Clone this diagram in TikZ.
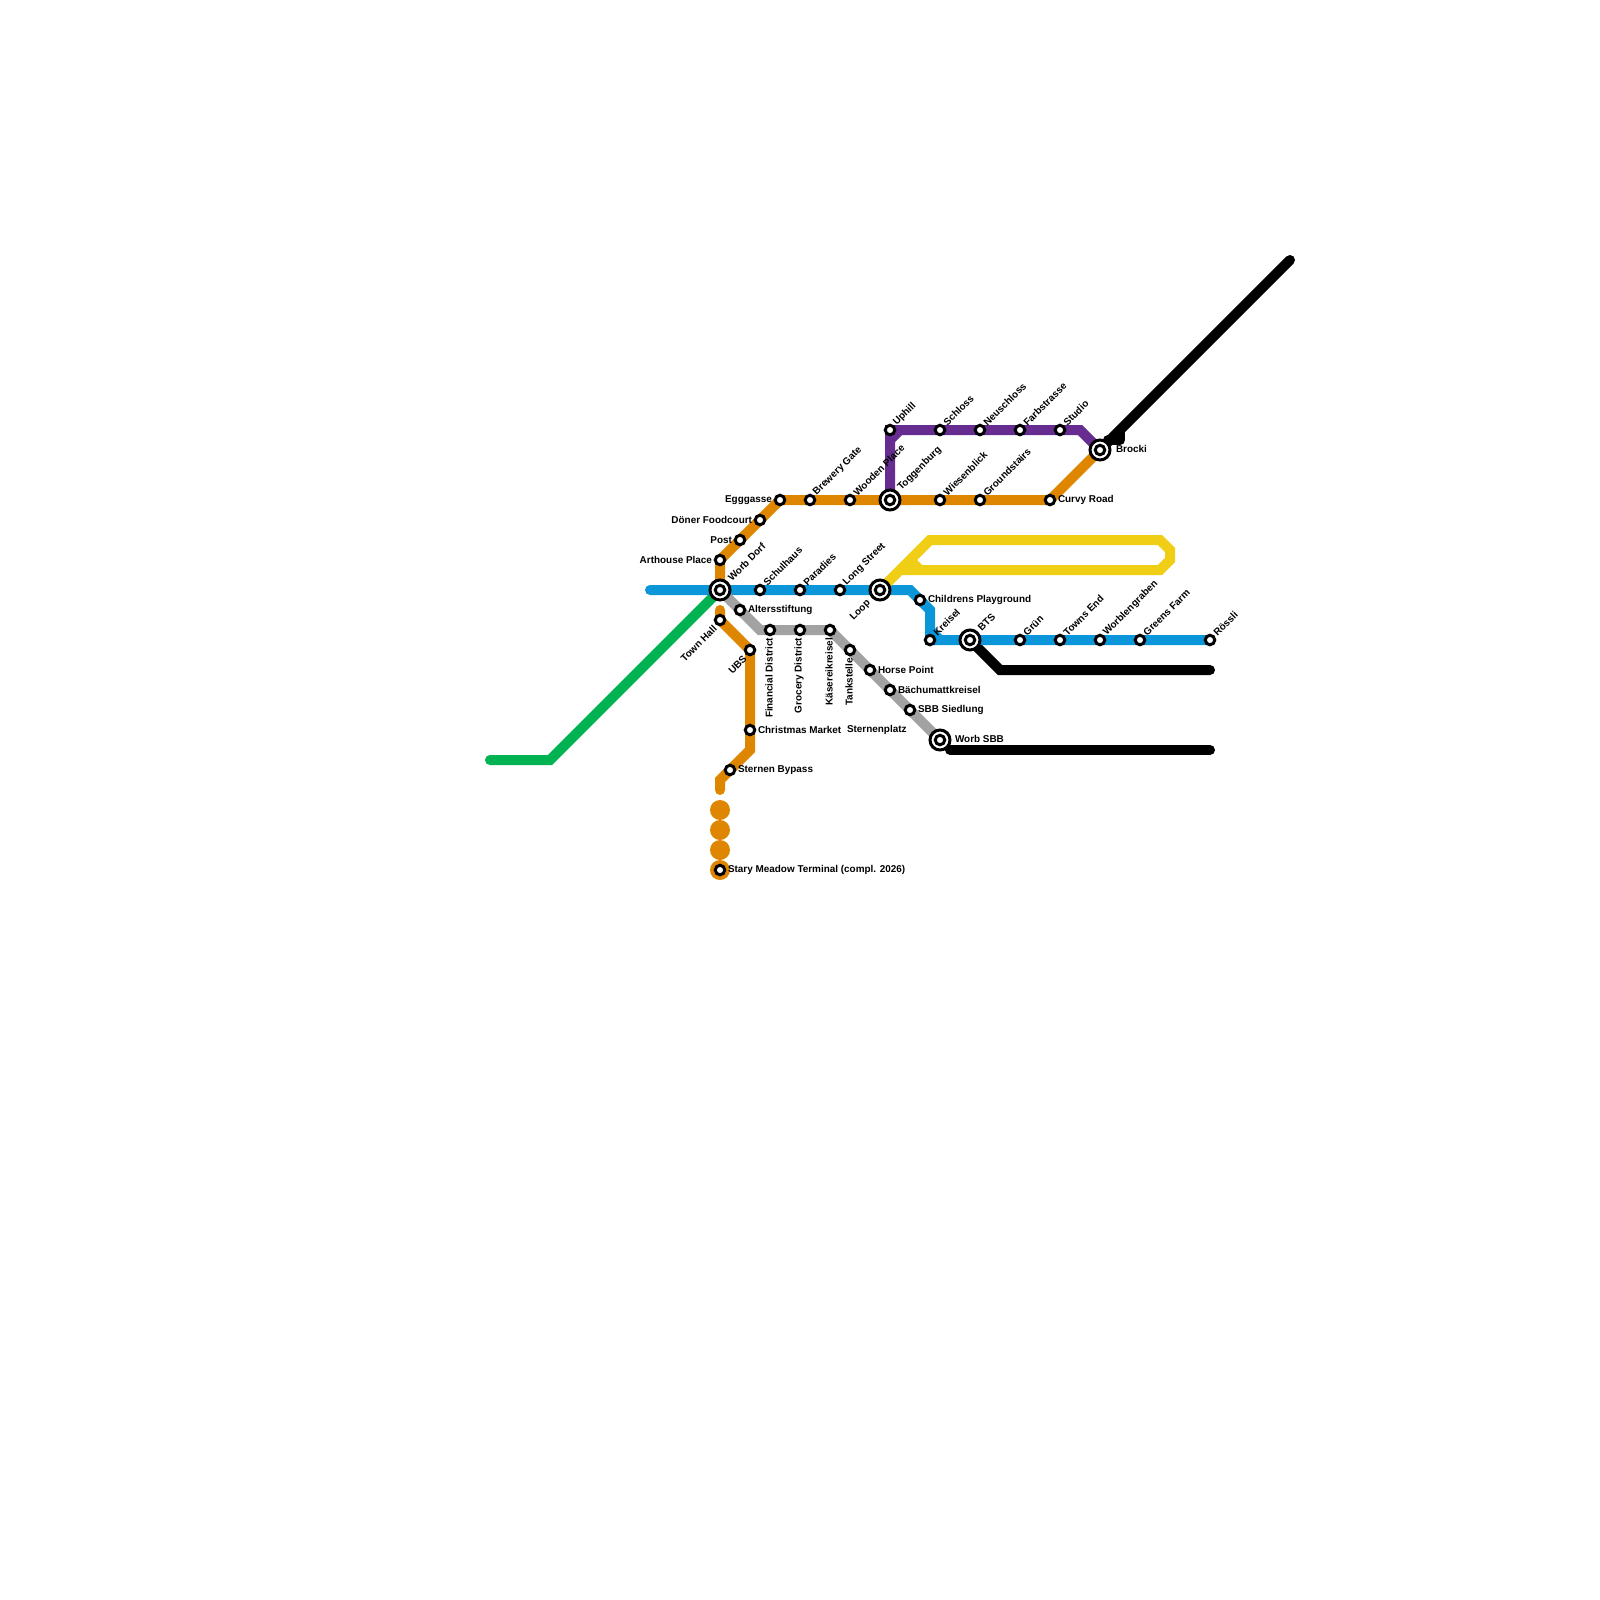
\documentclass[tikz,border=0pt]{standalone}
\usepackage{fontspec}
\setmainfont{Liberation Sans}
\usetikzlibrary{backgrounds}
\definecolor{mOrange}{HTML}{DF8600}
\definecolor{mBlue}{HTML}{0A96D8}
\definecolor{mGreen}{HTML}{00B251}
\definecolor{mPurple}{HTML}{662C90}
\definecolor{mGrey}{HTML}{A2A2A2}
\definecolor{mYellow}{HTML}{F0CE15}
\tikzset{
  stn/.style={circle,draw=black,fill=white,line width=0.06cm,minimum size=0.19cm,inner sep=0pt,outer sep=0pt},
  xchg/.style={circle,draw=black,fill=white,line width=0.06cm,minimum size=0.40cm,inner sep=0pt,outer sep=0pt,
    path picture={\draw[black,line width=0.06cm] (path picture bounding box.center) circle (0.095cm);}},
  blob/.style={circle,fill=mOrange,minimum size=0.40cm,inner sep=0pt,outer sep=0pt},
  lab/.style={font=\fontsize{5.65}{6}\selectfont\bfseries,inner sep=0pt,outer sep=0pt,text=black},
  labe/.style={lab,anchor=west,xshift=0.16cm},
  labw/.style={lab,anchor=east,xshift=-0.16cm},
  labs/.style={lab,yshift=-0.16cm,xshift=-0.02cm,rotate=90,anchor=east},
  labne/.style={lab,xshift=0.10cm,yshift=0.12cm,rotate=45,anchor=west},
  labsw/.style={lab,xshift=-0.10cm,yshift=-0.14cm,rotate=45,anchor=east},
  labxne/.style={lab,xshift=0.19cm,yshift=0.22cm,rotate=45,anchor=west},
  labxsw/.style={lab,xshift=-0.22cm,yshift=-0.24cm,rotate=45,anchor=east},
  metro/.style={line width=0.2cm,line join=miter,line cap=butt},
  metroend/.style={line width=0.2cm,line join=miter,line cap=round},
  chamfer/.style={line width=0.2cm,line cap=butt}
}
\begin{document}
\begin{tikzpicture}[x=0.02cm,y=-0.02cm]
\useasboundingbox (0,0) rectangle (1600,1600);
% bend points and free ends
\coordinate (gA) at (490,760);
\coordinate (gB) at (550,760);
\coordinate (bA) at (650,590);
\coordinate (bB) at (910,590);
\coordinate (bC) at (930,610);
\coordinate (bD) at (1210,640);
\coordinate (oA) at (720,610);
\coordinate (oB) at (750,750);
\coordinate (oC) at (720,780);
\coordinate (oD) at (720,790);
\coordinate (grA) at (760,630);
\coordinate (pA) at (1080,430);
\coordinate (yA) at (930,540);
\coordinate (yB) at (1160,540);
\coordinate (yC) at (1170,550);
\coordinate (yD) at (1170,560);
\coordinate (yE) at (1160,570);
\coordinate (yF) at (900,570);
\coordinate (yG) at (920,570);
\coordinate (yH) at (910,560);
\coordinate (kA) at (1290,260);
\coordinate (kB) at (1108,440);
\coordinate (kC) at (1120,440);
\coordinate (kD) at (1120,433);
\coordinate (kE) at (1000,670);
\coordinate (kF) at (1210,670);
\coordinate (kG) at (950,750);
\coordinate (kH) at (1210,750);
\coordinate (cA) at (890,440);
\coordinate (cB) at (900,430);
\coordinate (cC) at (930,630);
\coordinate (cD) at (940,640);
% blobs
\node[blob] (bl1) at (720,810) {};
\node[blob] (bl2) at (720,830) {};
\node[blob] (bl3) at (720,850) {};
\node[blob] (bl4) at (720,870) {};
% stations
\node[xchg] (worbdorf) at (720,590) {};
\node[stn] (arthouse) at (720,560) {};
\node[stn] (post) at (740,540) {};
\node[stn] (doener) at (760,520) {};
\node[stn] (egggasse) at (780,500) {};
\node[stn] (brewery) at (810,500) {};
\node[stn] (wooden) at (850,500) {};
\node[xchg] (toggenburg) at (890,500) {};
\node[stn] (wiesenblick) at (940,500) {};
\node[stn] (groundstairs) at (980,500) {};
\node[stn] (curvy) at (1050,500) {};
\node[xchg] (brocki) at (1100,450) {};
\node[stn] (uphill) at (890,430) {};
\node[stn] (schloss) at (940,430) {};
\node[stn] (neuschloss) at (980,430) {};
\node[stn] (farbstrasse) at (1020,430) {};
\node[stn] (studio) at (1060,430) {};
\node[stn] (schulhaus) at (760,590) {};
\node[stn] (paradies) at (800,590) {};
\node[stn] (longstreet) at (840,590) {};
\node[xchg] (loop) at (880,590) {};
\node[stn] (childrens) at (920,600) {};
\node[stn] (kreisel) at (930,640) {};
\node[xchg] (bts) at (970,640) {};
\node[stn] (gruen) at (1020,640) {};
\node[stn] (townsend) at (1060,640) {};
\node[stn] (worblen) at (1100,640) {};
\node[stn] (greens) at (1140,640) {};
\node[stn] (roessli) at (1210,640) {};
\node[stn] (alters) at (740,610) {};
\node[stn] (financial) at (770,630) {};
\node[stn] (grocery) at (800,630) {};
\node[stn] (kaeserei) at (830,630) {};
\node[stn] (tankstelle) at (850,650) {};
\node[stn] (horse) at (870,670) {};
\node[stn] (baechu) at (890,690) {};
\node[stn] (sbb) at (910,710) {};
\node[xchg] (worbsbb) at (940,740) {};
\node[stn] (townhall) at (720,620) {};
\node[stn] (ubs) at (750,650) {};
\node[stn] (christmas) at (750,730) {};
\node[stn] (bypass) at (730,770) {};
\node[stn] (stary) at (720,870) {};
% connectors
\begin{scope}[on background layer]
\draw[metroend,black] (kA) -- (brocki.center);
\draw[metroend,black,line join=round] (kB) -- (kC) -- (kD);
\draw[metroend,black] (bts.center) -- (kE) -- (kF);
\draw[metroend,black] (kG) -- (kH);
\draw[metroend,mGreen] (gA) -- (gB) -- (worbdorf.center);
\draw[metro,mOrange] (worbdorf.center) -- (arthouse.center) -- (egggasse.center) -- (curvy.center) -- (brocki.center);
\draw[metroend,mOrange] (oA) -- (townhall.center) -- (ubs.center) -- (oB) -- (oC) -- (oD);
\draw[metroend,mBlue] (bA) -- (bB) -- (bC) -- (kreisel.center) -- (bD);
\draw[chamfer,mBlue] (cC) -- (cD);
\draw[metro,mGrey] (worbdorf.center) -- (grA) -- (kaeserei.center) -- (worbsbb.center);
\draw[metro,mPurple] (toggenburg.center) -- (uphill.center) -- (pA) -- (brocki.center);
\draw[chamfer,mPurple] (cA) -- (cB);
\draw[metro,mYellow] (loop.center) -- (yA) -- (yB) -- (yC) -- (yD) -- (yE) -- (yF);
\draw[chamfer,mYellow] (yG) -- (yH);
\end{scope}
% labels
\node[labxne] (lWorbDorf) at (worbdorf) {Worb Dorf};
\node[labw] (lArthouse) at (arthouse) {Arthouse Place};
\node[labw] (lPost) at (post) {Post};
\node[labw] (lDoener) at (doener) {Döner Foodcourt};
\node[labw] (lEgg) at (egggasse) {Egggasse};
\node[labne] (lBrewery) at (brewery) {Brewery Gate};
\node[labne] (lWooden) at (wooden) {Wooden Place};
\node[labxne] (lTogg) at (toggenburg) {Toggenburg};
\node[labne] (lWiesen) at (wiesenblick) {Wiesenblick};
\node[labne] (lGround) at (groundstairs) {Groundstairs};
\node[labe] (lCurvy) at (curvy) {Curvy Road};
\node[lab,anchor=west] (lBrocki) at (1116,449) {Brocki};
\node[labne] (lUphill) at (uphill) {Uphill};
\node[labne] (lSchloss) at (schloss) {Schloss};
\node[labne] (lNeu) at (neuschloss) {Neuschloss};
\node[labne] (lFarb) at (farbstrasse) {Farbstrasse};
\node[labne] (lStudio) at (studio) {Studio};
\node[labne] (lSchul) at (schulhaus) {Schulhaus};
\node[labne] (lPara) at (paradies) {Paradies};
\node[labne] (lLong) at (longstreet) {Long Street};
\node[labxsw] (lLoop) at (loop) {Loop};
\node[labe] (lChild) at (childrens) {Childrens Playground};
\node[labne] (lKreisel) at (kreisel) {Kreisel};
\node[labxne] (lBTS) at (bts) {BTS};
\node[labne] (lGruen) at (gruen) {Grün};
\node[labne] (lTowns) at (townsend) {Towns End};
\node[labne] (lWorblen) at (worblen) {Worblengraben};
\node[labne] (lGreens) at (greens) {Greens Farm};
\node[labne] (lRoessli) at (roessli) {Rössli};
\node[labe] (lAlters) at (alters) {Altersstiftung};
\node[labs] (lFin) at (financial) {Financial District};
\node[labs] (lGroc) at (grocery) {Grocery District};
\node[labs] (lKaes) at (kaeserei) {Käsereikreisel};
\node[labs] (lTank) at (tankstelle) {Tankstelle};
\node[labe] (lHorse) at (horse) {Horse Point};
\node[labe] (lBaech) at (baechu) {Bächumattkreisel};
\node[labe] (lSBB) at (sbb) {SBB Siedlung};
\node[lab,anchor=west] (lWorbSBB) at (955,739) {Worb SBB};
\node[lab,anchor=west] (lStern) at (847,730) {Sternenplatz};
\node[labsw] (lTown) at (townhall) {Town Hall};
\node[labsw] (lUBS) at (ubs) {UBS};
\node[labe] (lChrist) at (christmas) {Christmas Market};
\node[labe] (lBypass) at (bypass) {Sternen Bypass};
\node[labe] (lStary) at (stary) {Stary Meadow Terminal (compl. 2026)};
\end{tikzpicture}
\end{document}
